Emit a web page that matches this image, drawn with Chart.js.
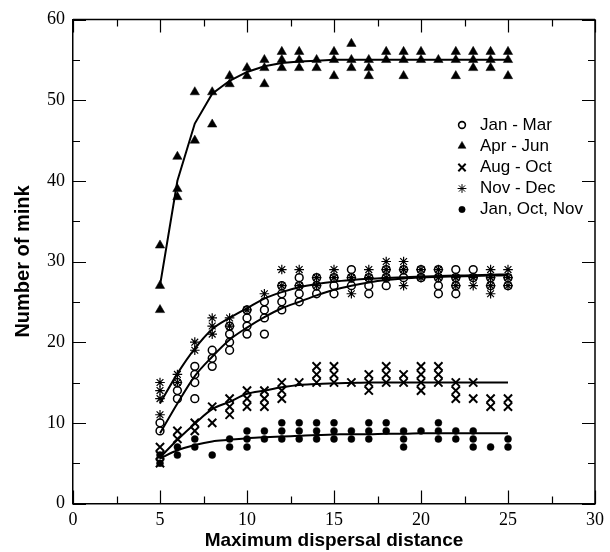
<!DOCTYPE html>
<html>
<head>
<meta charset="utf-8">
<script src="https://cdn.jsdelivr.net/npm/chart.js@4/dist/chart.umd.min.js"></script>
<style>
html,body{margin:0;padding:0;background:#fff;}
#c{display:block;}
</style>
</head>
<body>
<canvas id="c" width="610" height="552" style="width:610px;height:552px"></canvas>
<script>
// ---- data ----
const seriesNames = ["Jan - Mar", "Apr - Jun", "Aug - Oct", "Nov - Dec", "Jan, Oct, Nov"];

const janMarPoints = [
 [5,10],[5,9],
 [6,15],[6,14],[6,13],
 [7,17],[7,16],[7,15],[7,13],
 [8,19],[8,18],[8,17],
 [9,22],[9,21],[9,20],[9,19],
 [10,24],[10,23],[10,22],[10,21],
 [11,25],[11,24],[11,23],[11,21],
 [12,27],[12,26],[12,25],[12,24],
 [13,28],[13,27],[13,26],[13,25],
 [14,28],[14,27],[14,26],
 [15,28],[15,27],[15,26],
 [16,29],[16,28],[16,27],
 [17,28],[17,27],[17,26],
 [18,29],[18,28],[18,27],
 [19,29],[19,28],
 [20,29],[20,28],
 [21,29],[21,28],[21,27],[21,26],
 [22,29],[22,28],[22,27],[22,26],
 [23,29],[23,28],
 [24,28],[24,27],
 [25,28],[25,27]
];

const aprJunPoints = [
 [5,32],[5,27],[5,24],
 [6,43],[6,39],[6,38],
 [7,51],[7,45],
 [8,51],[8,47],
 [9,53],[9,52],
 [10,54],[10,53],
 [11,55],[11,54],[11,52],
 [12,56],[12,55],[12,54],
 [13,56],[13,55],[13,54],
 [14,55],[14,54],
 [15,56],[15,55],[15,53],
 [16,57],[16,55],[16,54],
 [17,55],[17,54],[17,53],
 [18,56],[18,55],
 [19,56],[19,55],[19,53],
 [20,56],[20,55],
 [21,55],
 [22,56],[22,55],[22,53],
 [23,56],[23,55],[23,54],
 [24,56],[24,55],[24,54],
 [25,56],[25,55],[25,53]
];

const augOctPoints = [
 [5,7],[5,6],[5,5],
 [6,9],[6,8],
 [7,10],[7,9],
 [8,12],[8,10],
 [9,13],[9,12],[9,11],
 [10,14],[10,13],[10,12],
 [11,14],[11,13],[11,12],
 [12,15],[12,14],[12,13],
 [13,15],
 [14,17],[14,16],[14,15],
 [15,17],[15,16],[15,15],
 [16,15],
 [17,16],[17,15],[17,14],
 [18,17],[18,16],[18,15],
 [19,16],[19,15],
 [20,17],[20,16],[20,15],[20,14],
 [21,17],[21,16],[21,15],
 [22,15],[22,14],[22,13],
 [23,15],[23,13],
 [24,13],[24,12],
 [25,13],[25,12]
];

const novDecPoints = [
 [5,15],[5,14],[5,13],[5,11],
 [6,16],[6,15],
 [7,20],[7,19],
 [8,23],[8,22],[8,21],
 [9,23],[9,22],
 [10,24],
 [11,26],
 [12,29],[12,27],
 [13,29],[13,27],
 [14,28],[14,27],
 [15,29],[15,28],
 [16,28],[16,26],
 [17,29],[17,28],
 [18,30],[18,29],[18,28],
 [19,30],[19,29],[19,27],
 [20,29],[20,28],
 [21,29],[21,28],
 [22,28],[22,27],
 [23,28],[23,27],
 [24,29],[24,28],[24,27],[24,26],
 [25,29],[25,28],[25,27]
];

const janOctNovPoints = [
 [5,6],[5,5],
 [6,7],[6,6],
 [7,8],[7,7],
 [8,6],
 [9,8],[9,7],
 [10,9],[10,8],[10,7],
 [11,9],[11,8],
 [12,10],[12,9],[12,8],
 [13,10],[13,9],[13,8],
 [14,10],[14,9],[14,8],
 [15,10],[15,9],[15,8],
 [16,9],[16,8],
 [17,10],[17,9],[17,8],
 [18,10],[18,9],
 [19,9],[19,8],[19,7],
 [20,9],
 [21,10],[21,9],[21,8],
 [22,9],[22,8],
 [23,9],[23,8],[23,7],
 [24,7],
 [25,8],[25,7]
];

// fitted curves read at each distance
const curveX       = [5,6,7,8,9,10,11,12,13,14,15,16,17,18,19,20,21,22,23,24,25];
const aprJunFit    = [27,40,47.1,50.8,52.4,53.5,54.2,54.6,54.8,54.9,55,55,55,55,55,55,55,55,55,55,55];
const novDecFit    = [12.4,16.1,19.2,21.6,23.0,24.2,25.4,26.2,26.8,27.2,27.5,27.7,27.85,27.95,28.05,28.15,28.2,28.25,28.3,28.35,28.4];
const janMarFit    = [8.7,12.4,15.8,18.2,20.3,21.8,23.1,24.2,25.0,25.8,26.5,27.0,27.4,27.7,27.9,28.0,28.1,28.15,28.2,28.25,28.3];
const augOctFit    = [5.7,7.9,9.9,11.7,12.6,13.6,14.0,14.4,14.7,14.8,14.9,14.95,15,15,15,15,15,15,15,15,15];
const janOctNovFit = [5.6,6.6,7.25,7.7,7.9,8.1,8.2,8.3,8.4,8.5,8.55,8.6,8.6,8.65,8.65,8.7,8.7,8.7,8.7,8.7,8.7];

const xTickValues = [0,5,10,15,20,25,30];
const yTickValues = [0,10,20,30,40,50,60];

// ---- build chart ----
const toXY = arr => arr.map(p => ({x:p[0], y:p[1]}));
const curveXY = ys => curveX.map((x,i) => ({x:x, y:ys[i]}));

const markerStyles = [
  {pointStyle:'circle',   radius:3.9, borderWidth:1.5, backgroundColor:'rgba(0,0,0,0)', borderColor:'#000'},
  {pointStyle:'triangle', radius:5.4, borderWidth:0.5, backgroundColor:'#000', borderColor:'#000'},
  {pointStyle:'crossRot', radius:5.8, borderWidth:2,   backgroundColor:'#000', borderColor:'#000'},
  {pointStyle:'star',     radius:4.8, borderWidth:1.2, backgroundColor:'#000', borderColor:'#000'},
  {pointStyle:'circle',   radius:3.5, borderWidth:0.5, backgroundColor:'#000', borderColor:'#000'}
];
const pointSets = [janMarPoints, aprJunPoints, augOctPoints, novDecPoints, janOctNovPoints];

const datasets = [];
[aprJunFit, novDecFit, janMarFit, augOctFit, janOctNovFit].forEach((ys, i) => {
  datasets.push({
    type:'scatter', label:'fit'+i, data: curveXY(ys), showLine:true,
    borderColor:'#000', borderWidth:2, pointRadius:0, fill:false,
    tension: i === 0 ? 0 : 0.4, cubicInterpolationMode: i === 0 ? 'default' : 'monotone'
  });
});
pointSets.forEach((pts, i) => {
  const m = markerStyles[i];
  datasets.push({
    type:'scatter', label: seriesNames[i], data: toXY(pts), showLine:false,
    pointStyle: m.pointStyle, pointRadius: m.radius, pointBorderWidth: m.borderWidth,
    pointBackgroundColor: m.backgroundColor, pointBorderColor: m.borderColor,
    pointHoverRadius: m.radius
  });
});

const tickFont = {family:"'Liberation Serif', 'Times New Roman', serif", size:18};
const titleFont = {family:"'Liberation Sans', Arial, sans-serif", size:19, weight:'bold'};

const framePlugin = {
  id:'frame',
  afterDraw(chart) {
    const {ctx, chartArea:a, scales:{x, y}} = chart;
    ctx.save();
    ctx.strokeStyle = '#000';
    ctx.lineWidth = 1.5;
    ctx.beginPath();
    ctx.moveTo(a.left, a.top); ctx.lineTo(a.right, a.top);
    ctx.moveTo(a.right, a.top); ctx.lineTo(a.right, a.bottom);
    ctx.stroke();
    ctx.lineWidth = 1.2;
    ctx.beginPath();
    for (let v = 0; v <= 30; v += 2.5) {
      const px = Math.round(x.getPixelForValue(v)) + 0.5;
      const len = (v % 5 === 0) ? 13 : 7;
      ctx.moveTo(px, a.bottom); ctx.lineTo(px, a.bottom - len);
      ctx.moveTo(px, a.top); ctx.lineTo(px, a.top + len);
    }
    for (let v = 0; v <= 60; v += 5) {
      const py = Math.round(y.getPixelForValue(v)) + 0.5;
      const len = (v % 10 === 0) ? 13 : 7;
      ctx.moveTo(a.left, py); ctx.lineTo(a.left + len, py);
      ctx.moveTo(a.right, py); ctx.lineTo(a.right - len, py);
    }
    ctx.stroke();

    // legend
    const rows = [125, 146, 167.5, 188.5, 209.5];
    const legendMarkers = [
      {pointStyle:'circle',   radius:3.4, borderWidth:1.6, fill:'rgba(0,0,0,0)'},
      {pointStyle:'triangle', radius:4.6, borderWidth:0.5, fill:'#000'},
      {pointStyle:'crossRot', radius:5.2, borderWidth:2,   fill:'#000'},
      {pointStyle:'star',     radius:4.4, borderWidth:1,   fill:'#000'},
      {pointStyle:'circle',   radius:3.2, borderWidth:0.5, fill:'#000'}
    ];
    ctx.font = "17px 'Liberation Sans', Arial, sans-serif";
    ctx.textBaseline = 'middle';
    ctx.textAlign = 'left';
    seriesNames.forEach((name, i) => {
      const m = legendMarkers[i];
      ctx.fillStyle = m.fill;
      ctx.strokeStyle = '#000';
      ctx.lineWidth = m.borderWidth;
      Chart.helpers.drawPoint(ctx, {pointStyle:m.pointStyle, radius:m.radius, borderWidth:m.borderWidth, rotation:0}, 462, rows[i]);
      ctx.fillStyle = '#000';
      ctx.fillText(name, 480, rows[i]);
    });
    ctx.restore();
  }
};

new Chart(document.getElementById('c'), {
  type:'scatter',
  data:{datasets},
  options:{
    responsive:false, animation:false, devicePixelRatio:1,
    layout:{padding:{top:19.5, right:12, left:0, bottom:0}},
    plugins:{legend:{display:false}, tooltip:{enabled:false}},
    scales:{
      x:{
        type:'linear', min:0, max:30,
        afterBuildTicks: s => { s.ticks = xTickValues.map(v => ({value:v})); },
        afterFit: s => { s.height = 48.5; },
        ticks:{font:tickFont, color:'#000', padding:6, maxRotation:0, autoSkip:false},
        grid:{display:false, drawTicks:false},
        border:{display:true, color:'#000', width:1.5},
        title:{display:true, text:'Maximum dispersal distance', font:titleFont, color:'#000', padding:{top:0, bottom:0}}
      },
      y:{
        type:'linear', min:0, max:60,
        afterBuildTicks: s => { s.ticks = yTickValues.map(v => ({value:v})); },
        afterFit: s => { s.width = 73; },
        ticks:{font:tickFont, color:'#000', padding:8, autoSkip:false},
        grid:{display:false, drawTicks:false},
        border:{display:true, color:'#000', width:1.5},
        title:{display:true, text:'Number of mink', font:{family:titleFont.family, size:20, weight:'bold'}, color:'#000', padding:{top:11, bottom:0}}
      }
    }
  }
  ,plugins:[framePlugin]
});
</script>
</body>
</html>
